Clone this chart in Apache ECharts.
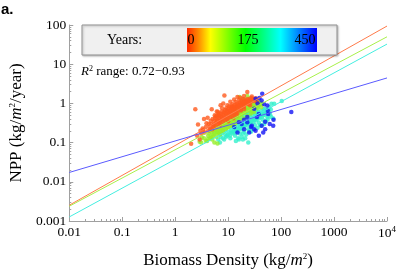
<!DOCTYPE html>
<html><head><meta charset="utf-8">
<script src="https://cdn.jsdelivr.net/npm/echarts@6/dist/echarts.min.js"></script>
<style>html,body{margin:0;padding:0;background:#fff}#c{width:399px;height:276px}</style>
</head><body><div id="c"></div>
<script>
const xTicks = [0.01, 0.1, 1, 10, 100, 1000, 10000];
const xTickLabels = ['0.01', '0.1', '1', '10', '100', '1000', '10{sup|4}'];
const yTicks = [0.001, 0.01, 0.1, 1, 10, 100];
const yTickLabels = ['0.001', '0.01', '0.1', '1', '10', '100'];
const legendYears = ['0', '175', '450'];
const r2Range = ['0.72', '0.93'];

// fitted power-law lines, endpoints at x = 0.01 and x = 10^4
const fitX = [0.01, 10000];
const fitY0 = [0.00253, 94];
const fitY175a = [0.00238, 50];
const fitY175b = [0.00127, 32.6];
const fitY450 = [0.0173, 4.46];

// scatter points [biomass density, NPP]
const yearsEarly = [[2.0,0.094],[2.4,0.71],[2.7,0.29],[3.1,0.17],[3.3,0.23],[3.9,0.31],[4.1,0.43],[4.9,0.71],[5.8,0.46],[6.4,0.61],[7.2,0.90],[8.1,1.0],[8.5,1.6],[15,1.45],[23,1.95],[2.9,0.12],
[4.5,0.25],[4.8,0.3],[5.2,0.27],[5.5,0.35],[5.9,0.32],[6.2,0.38],[6.5,0.3],[6.8,0.42],[7.1,0.36],[7.5,0.45],[7.8,0.4],[8.2,0.5],[8.6,0.44],[9,0.55],[9.4,0.48],[9.8,0.6],[10.3,0.52],[10.8,0.65],[11.2,0.58],[11.8,0.7],[12.3,0.62],[12.9,0.78],[13.5,0.68],[14.1,0.85],[14.8,0.74],[15.5,0.92],[16.2,0.8],[17,1.0],[17.8,0.88],[18.6,1.05],[19.5,0.95],[20.5,1.1],[21.5,0.98],[22.6,1.2],[24,1.05],[25.5,1.25],[27,1.1],[29,1.3],[31,1.15],[33,1.35],[6,0.25],[7,0.28],[8,0.33],[9.5,0.38],[11,0.45],[13,0.52],[15,0.58],[17.5,0.66],[20,0.72],[5,0.22],[4.2,0.2],[3.6,0.18],[3.4,0.21],[5.6,0.5],[6.6,0.55],[7.6,0.62],[9.2,0.75],[10.5,0.85],[12,0.95],[13.8,1.08],[16,1.2],[19,1.3],[8.8,0.68],[11.5,0.8],[26,0.9],[28,1.5],[35,1.1],[10,0.35],[12.5,0.42],[14.5,0.5],
[3.8,0.25],[4.3,0.3],[4.7,0.36],[5.1,0.4],[5.4,0.29],[5.7,0.42],[6.1,0.48],[6.3,0.35],[6.7,0.5],[7.0,0.46],[7.3,0.55],[7.9,0.52],[8.4,0.6],[8.9,0.58],[9.6,0.65],[10.1,0.72],[10.6,0.58],[11.3,0.75],[11.9,0.85],[12.6,0.72],[13.2,0.9],[13.9,0.8],[14.6,0.98],[15.3,0.85],[16.5,1.05],[17.3,0.92],[18.2,1.12],[19.2,1.0],[20.8,1.2],[22,1.05],[23.5,1.3],[25,1.15],[27.5,1.35],[30,1.25],[4.6,0.22],[5.3,0.24],[6.9,0.32],[8.5,0.38],[10.2,0.44],[12.2,0.5],[14,0.6],[16.8,0.7],[19.8,0.82],[24.5,0.95],[9.7,0.9],[7.7,0.75],[6.1,0.62],[11,1.1],[13,1.25],[17,1.4],[20,1.55],[3.5,0.4],[2.6,0.15],[3.0,0.2]];

const yearsMid = [[3.1,0.1],[3.5,0.13],[3.8,0.11],[4.2,0.15],[4.6,0.13],[4.9,0.18],[5.3,0.16],[5.7,0.21],[6.1,0.18],[6.5,0.24],[6.9,0.2],[7.3,0.27],[7.8,0.23],[8.3,0.3],[8.8,0.26],[9.3,0.34],[9.9,0.3],[10.5,0.38],[11.1,0.33],[11.8,0.43],[12.5,0.37],[13.2,0.48],[14,0.42],[14.9,0.54],[15.8,0.47],[16.8,0.6],[17.8,0.52],[19,0.66],[20.2,0.58],[21.5,0.72],[22.8,0.64],[24.2,0.8],[25.8,0.7],[27.5,0.88],[29.3,0.77],[31.2,0.95],[33.2,0.84],[35.5,1.0],[38,0.9],[41,1.05],[44,0.95],[5,0.12],[6,0.14],[7,0.16],[8,0.19],[4,0.11],[9,0.22],[10,0.25],[12,0.29],[14,0.33],[3.2,0.135],[5.5,0.1],[5.8,0.27],[7.5,0.34],[9.5,0.45],[11.5,0.55],[13.5,0.62],[16,0.72],[19,0.85],[22,0.95],[26,1.1],[30,1.2],[23,1.55],[18,1.2],[36,0.75],[42,0.8],[28,0.62],[6.3,0.095],[2.9,0.105],[16.4,1.45],[26,1.35],
[4.4,0.17],[4.8,0.14],[5.2,0.2],[5.6,0.17],[6,0.22],[6.4,0.19],[6.8,0.25],[7.2,0.22],[7.6,0.29],[8.1,0.25],[8.6,0.32],[9.1,0.28],[9.7,0.37],[10.3,0.32],[10.9,0.41],[11.6,0.36],[12.3,0.46],[13,0.4],[13.8,0.51],[14.6,0.45],[15.5,0.57],[16.4,0.5],[17.4,0.63],[18.4,0.56],[19.6,0.7],[20.8,0.62],[22.2,0.76],[23.6,0.68],[25,0.84],[26.7,0.74],[28.5,0.92],[30.5,0.82],[32.5,1.0],[35,0.9],[37,1.08],[40,0.98],[4.2,0.125],[5.1,0.14],[6.6,0.17],[7.9,0.2],[9.6,0.24],[11.4,0.27],[13.6,0.3],[16.5,0.38],[19.5,0.42],[23,0.48],[27,0.55],[31,0.6],[9,0.4],[10.8,0.5],[12.8,0.6],[15,0.68],[18,0.78],[21,0.88],[24,1.0],[28,1.15],[33,1.25],[20,1.3]];

const yearsLate = [[6.5,0.12],[7.2,0.14],[8,0.13],[8.8,0.16],[9.5,0.15],[10.5,0.18],[11.3,0.2],[12.2,0.17],[13,0.22],[14,0.2],[15,0.25],[16,0.23],[17.2,0.28],[18.5,0.25],[19.8,0.31],[21,0.28],[22.5,0.35],[24,0.31],[25.5,0.38],[27,0.34],[29,0.42],[31,0.37],[33,0.46],[35,0.41],[37.5,0.5],[40,0.45],[43,0.55],[46,0.5],[50,0.6],[54,0.56],[58,0.66],[12,0.3],[14.5,0.35],[17,0.4],[20,0.45],[23,0.5],[26,0.55],[30,0.6],[34,0.65],[13.5,0.15],[16.5,0.17],[20,0.19],[24,0.22],[28,0.25],[32,0.28],[38,0.32],[11,0.25],[9,0.2],[7.5,0.17],[49.5,0.73],[66,0.98],[71,0.41],[103,1.15],[74,0.98],[45,0.38],[55,0.45],[62,0.52],[18,0.14],[22,0.16],[27,0.19],[36,0.24],[42,0.27],[52,0.35],[15.5,0.13],[60,0.8],[28,0.7],[22,0.6],[35,0.8],[14,0.11],[24,0.1],[19,0.12],
[7,0.1],[8.4,0.12],[9.2,0.14],[10,0.16],[10.8,0.15],[11.7,0.18],[12.6,0.19],[13.6,0.18],[14.5,0.21],[15.5,0.2],[16.6,0.24],[17.8,0.22],[19,0.27],[20.3,0.25],[21.7,0.3],[23.2,0.28],[24.8,0.33],[26.3,0.3],[28,0.37],[30,0.33],[32,0.41],[34,0.37],[36,0.45],[38.5,0.42],[41,0.5],[44,0.46],[47,0.55],[51,0.52],[55,0.62],[60,0.58],[64,0.7],[12.8,0.26],[15.5,0.3],[18.5,0.36],[21.5,0.4],[25,0.46],[28.5,0.5],[32,0.55],[37,0.6],[42,0.65],[47,0.7],[14.8,0.4],[18,0.5],[21,0.55],[25,0.65],[30,0.75],[19,0.17],[25,0.2],[30,0.22],[40,0.28],[48,0.3],[56,0.4],[65,0.45],[16,0.12],[21,0.13],[11,0.13]];

const yearsOld = [[33,1.32],[39,1.37],[31,0.73],[23,0.33],[27,0.25],[20,0.22],[33,0.2],[25,0.18],[38,0.15],[43,1.19],[55,0.89],[57,0.54],[156,0.6],[43,0.27],[71,0.27],[50,0.22],[61,0.3],[46,0.18],[44,1.77],[23,0.45],[28,0.27],[50,0.34],[72,0.38],[56,0.66],[38,0.54],[13,0.25],[18,0.3],[31,0.22],[15,0.18],[20,0.38],[35,0.45],[16,0.33],[48,0.95],[36,1.0]];

function minorOf(ticks){
  const out=[];
  for(let i=0;i<ticks.length-1;i++){for(let k=2;k<=9;k++){out.push(ticks[i]*k);}}
  return out;
}
const serif = 'Liberation Serif';
const sup = {fontSize: 9, fontFamily: serif, color:'#000', padding:[0,0,7,0]};
const it = {fontStyle:'italic', fontFamily: serif, fontSize: 17, color:'#000'};

function labelIdx(v){return Math.round(Math.log10(v));}

const chart = echarts.init(document.getElementById('c'), null, {renderer:'canvas'});
const axisLineStyle = {color:'#a0a0a0', width:1};
const mk = (d,c,z)=>({type:'scatter', data:d, symbol:'circle', symbolSize:4.5, itemStyle:{color:c}, z:z, silent:true, animation:false});
const ln = (yv,c)=>({type:'line', data:[[fitX[0],yv[0]],[fitX[1],yv[1]]], symbol:'none', lineStyle:{color:c,width:1}, z:10, silent:true, animation:false});

chart.setOption({
  animation:false,
  grid:{left:67, top:25, width:321, height:196, containLabel:false},
  xAxis:[{
    type:'log', min:0.01, max:10000, position:'bottom',
    axisLine:{show:true, lineStyle:axisLineStyle},
    axisTick:{show:true, inside:true, length:4, lineStyle:axisLineStyle, customValues:xTicks},
    axisLabel:{show:true, margin:4, customValues:xTicks, fontFamily:serif, fontSize:13.5, color:'#000',
      formatter:(v)=>xTickLabels[labelIdx(v)+2], rich:{sup:{fontSize:9,fontFamily:serif,color:'#000',padding:[0,0,7,0]}}},
    splitLine:{show:false},
    name:'Biomass Density (kg/{i|m}{sup|2})', nameLocation:'middle', nameGap:31,
    nameTextStyle:{fontFamily:serif, fontSize:17, color:'#000', rich:{i:it, sup:sup}}
  },{
    type:'log', min:0.01, max:10000, position:'bottom', gridIndex:0,
    axisLine:{show:false}, axisLabel:{show:false}, splitLine:{show:false},
    axisTick:{show:true, inside:true, length:2, lineStyle:axisLineStyle, customValues:minorOf(xTicks)}
  }],
  yAxis:[{
    type:'log', min:0.001, max:100, position:'left',
    axisLine:{show:true, lineStyle:axisLineStyle},
    axisTick:{show:true, inside:true, length:4, lineStyle:axisLineStyle, customValues:yTicks},
    axisLabel:{show:true, margin:3, customValues:yTicks, fontFamily:serif, fontSize:13.5, color:'#000',
      formatter:(v)=>yTickLabels[labelIdx(v)+3]},
    splitLine:{show:false},
    name:'NPP (kg/{i|m}{sup|2}/year)', nameLocation:'middle', nameGap:38, nameRotate:90,
    nameTextStyle:{fontFamily:serif, fontSize:17, color:'#000', rich:{i:it, sup:sup}}
  },{
    type:'log', min:0.001, max:100, position:'left', gridIndex:0,
    axisLine:{show:false}, axisLabel:{show:false}, splitLine:{show:false},
    axisTick:{show:true, inside:true, length:2, lineStyle:axisLineStyle, customValues:minorOf(yTicks)}
  }],
  series:[
    mk(yearsLate,'#33f0cc',2),
    mk(yearsMid,'#96ee2a',3),
    mk(yearsEarly,'#ff5a1e',4),
    mk(yearsOld,'#1414f5',5),
    ln(fitY0,'#ff7a4a'),
    ln(fitY175a,'#a8f04a'),
    ln(fitY175b,'#44eee0'),
    ln(fitY450,'#5a5aff')
  ],
  graphic:[
    {type:'text', left:1, top:2, style:{text:'a.', font:'bold 15px "Liberation Sans"', fill:'#000'}},
    {type:'rect', shape:{x:82,y:25,width:255,height:30}, style:{fill:'#f0f0f0', stroke:'#909090', lineWidth:1, shadowBlur:2, shadowColor:'rgba(0,0,0,0.25)', shadowOffsetX:1, shadowOffsetY:1}, z:20},
    {type:'text', x:107, y:40, style:{text:'Years:', font:'14px "Liberation Serif"', fill:'#000', verticalAlign:'middle'}, z:21},
    {type:'rect', shape:{x:187,y:28,width:130,height:24}, style:{fill:new echarts.graphic.LinearGradient(0,0,1,0,[
      {offset:0,color:'#ff2a00'},{offset:0.09,color:'#ff8c00'},{offset:0.18,color:'#ffff00'},{offset:0.45,color:'#00ff00'},{offset:0.72,color:'#00ffff'},{offset:1,color:'#0000ff'}])}, z:21},
    {type:'text', x:191, y:40, style:{text:legendYears[0], font:'14px "Liberation Serif"', fill:'#000', align:'center', verticalAlign:'middle'}, z:22},
    {type:'text', x:248, y:40, style:{text:legendYears[1], font:'14px "Liberation Serif"', fill:'#000', align:'center', verticalAlign:'middle'}, z:22},
    {type:'text', x:305, y:40, style:{text:legendYears[2], font:'14px "Liberation Serif"', fill:'#000', align:'center', verticalAlign:'middle'}, z:22},
    {type:'text', x:81, y:72, style:{text:'{i|R}{s|2} range: '+r2Range[0]+'\u2212'+r2Range[1], font:'13px "Liberation Serif"', fill:'#000', verticalAlign:'middle',
      rich:{i:{fontStyle:'italic', fontFamily:serif, fontSize:13}, s:{fontSize:8, fontFamily:serif, padding:[0,0,6,0]}}}, z:21}
  ]
});
</script></body></html>
